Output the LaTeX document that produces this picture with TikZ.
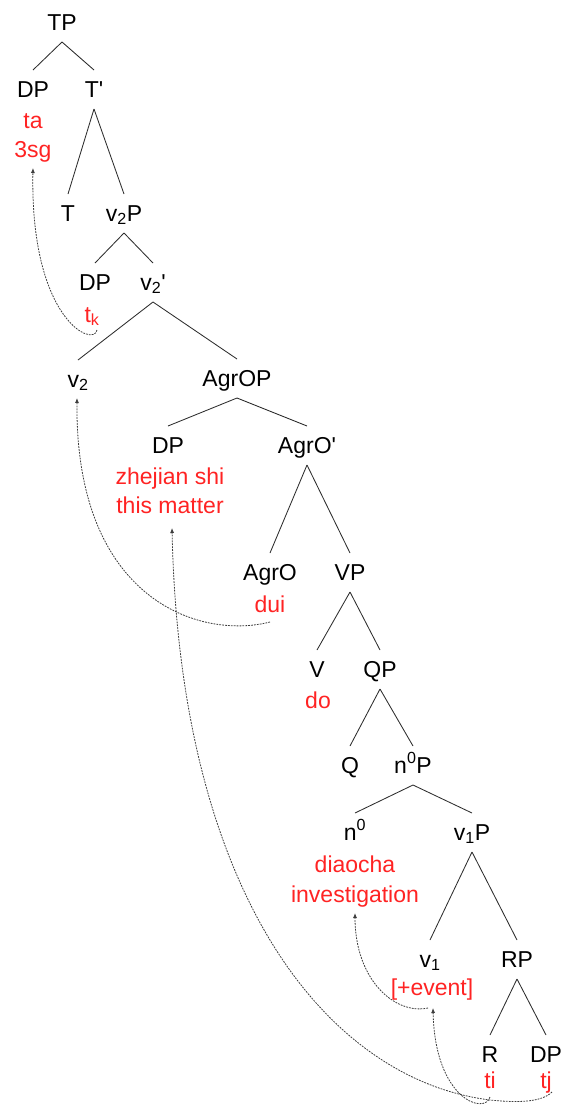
\documentclass[tikz,border=0pt]{standalone}
\usepackage{fontspec}
\setmainfont{Liberation Sans}
\usetikzlibrary{arrows.meta}
\definecolor{lred}{RGB}{255,35,35}
\definecolor{edgec}{RGB}{45,45,45}
\definecolor{movec}{RGB}{60,60,60}
\newcommand\branch[2]{\draw[edge] ([yshift=-12pt]#1.base) -- ([yshift=27pt]#2.base);}
\newcommand\pr{\textquotesingle}
\begin{document}
\begin{tikzpicture}[x=1pt,y=-1pt,
  lab/.style={anchor=base, inner sep=0pt, font=\fontsize{23}{28}\selectfont, text=black},
  redlab/.style={lab, text=lred},
  edge/.style={draw=edgec, line width=0.85pt},
  move/.style={draw=movec, line width=0.8pt, dash pattern=on 1.8pt off 1.1pt, -{Latex[length=5pt,width=4pt]}}]
\useasboundingbox (0,0) rectangle (565,1111);
% labels
\node[lab] (TP) at (62,30) {TP};
\node[lab] (DP1) at (33,97) {DP};
\node[redlab] (ta) at (33,128) {ta};
\node[redlab] (sg) at (33,157) {3sg};
\node[lab] (Tbar) at (94,97) {T\pr};
\node[lab] (T) at (68,221) {T};
\node[lab] (vtwoP) at (124,221) {v\textsubscript{2}P};
\node[lab] (DP2) at (95,290) {DP};
\node[redlab] (tk) at (92,322) {t\textsubscript{k}};
\node[lab] (vtwobar) at (153,290) {v\textsubscript{2}\pr};
\node[lab] (vtwo) at (78,387) {v\textsubscript{2}};
\node[lab] (AgrOP) at (237,386) {AgrOP};
\node[lab] (DP3) at (168,453) {DP};
\node[redlab] (zhe) at (170,484) {zhejian shi};
\node[redlab] (this) at (170,513) {this matter};
\node[lab] (AgrObar) at (307,453) {AgrO\pr};
\node[lab] (AgrO) at (270,580) {AgrO};
\node[redlab] (dui) at (270,612) {dui};
\node[lab] (VP) at (350,580) {VP};
\node[lab] (V) at (317,677) {V};
\node[redlab] (do) at (318,708) {do};
\node[lab] (QP) at (380,677) {QP};
\node[lab] (Q) at (350,773) {Q};
\node[lab] (nP) at (413,773) {n\textsuperscript{0}P};
\node[lab] (nzero) at (355,840) {n\textsuperscript{0}};
\node[redlab] (diao) at (355,872) {diaocha};
\node[redlab] (inv) at (355,902) {investigation};
\node[lab] (vP) at (472,840) {v\textsubscript{1}P};
\node[lab] (vone) at (430,967) {v\textsubscript{1}};
\node[redlab] (event) at (432,995) {[+event]};
\node[lab] (RP) at (517,967) {RP};
\node[lab] (R) at (490,1062) {R};
\node[redlab] (ti) at (490,1088) {ti};
\node[lab] (DP4) at (546,1062) {DP};
\node[redlab] (tj) at (546,1088) {tj};
% tree branches
\branch{TP}{DP1}\branch{TP}{Tbar}
\branch{Tbar}{T}\branch{Tbar}{vtwoP}
\branch{vtwoP}{DP2}\branch{vtwoP}{vtwobar}
\branch{vtwobar}{vtwo}\branch{vtwobar}{AgrOP}
\branch{AgrOP}{DP3}\branch{AgrOP}{AgrObar}
\branch{AgrObar}{AgrO}\branch{AgrObar}{VP}
\branch{VP}{V}\branch{VP}{QP}
\branch{QP}{Q}\branch{QP}{nP}
\branch{nP}{nzero}\branch{nP}{vP}
\branch{vP}{vone}\branch{vP}{RP}
\branch{RP}{R}\branch{RP}{DP4}
% movement arrows
\draw[move] ([shift={(5,8)}]tk.base) .. controls (94,348) and (30,320) .. ([shift={(0,11)}]sg.base);
\draw[move] ([shift={(0,10)}]dui.base) .. controls (200,640) and (75,600) .. ([shift={(-1,11)}]vtwo.base);
\draw[move] ([shift={(6,4)}]tj.base) .. controls (540,1104) and (510,1102) .. (490,1100) .. controls (330,1080) and (180,900) .. ([shift={(2,15)}]this.base);
\draw[move] ([shift={(0,9)}]ti.base) .. controls (485,1115) and (435,1100) .. ([shift={(1,13)}]event.base);
\draw[move] ([shift={(-4,13)}]event.base) .. controls (395,1015) and (355,980) .. ([shift={(0,11)}]inv.base);
\end{tikzpicture}
\end{document}
